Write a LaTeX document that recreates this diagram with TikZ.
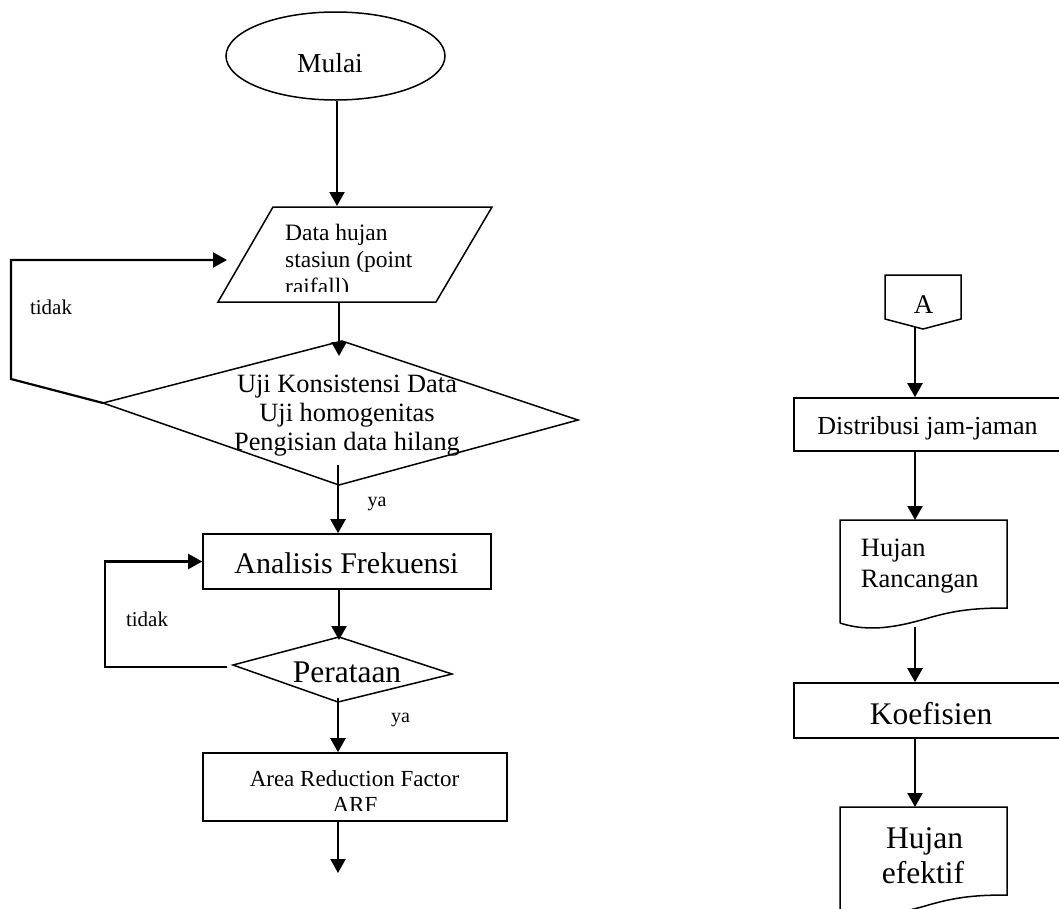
\documentclass[tikz,border=0pt]{standalone}
\usepackage{fontspec}
\setmainfont{Liberation Serif}
\usetikzlibrary{arrows.meta,shapes.geometric}
\begin{document}
\begin{tikzpicture}[x=1pt,y=-1pt,
  outline/.style={line width=1.5pt},
  flow/.style={line width=2.2pt,-{Triangle[width=15pt,length=14pt]}},
  box/.style={draw,line width=1.6pt,rectangle,inner sep=0pt},
  txt/.style={inner sep=0pt,anchor=base},
  ltxt/.style={inner sep=0pt,anchor=base west},
  fs/.style={font=\fontsize{#1}{#1}\selectfont}
]
\clip (0,0) rectangle (1059,908);
\fill[white] (0,0) rectangle (1059,908);

% ---------- left column ----------
\node[draw,ellipse,outline,minimum width=219pt,minimum height=88pt,inner sep=0pt] (mulai) at (335.5,56) {};
\node[txt,fs=27.5] (mulaitxt) at (330,72) {Mulai};

% parallelogram (input data)
\coordinate (dTL) at (273,207);
\coordinate (dTR) at (492,207);
\coordinate (dBR) at (436,302);
\coordinate (dBL) at (218,302);
\coordinate (dTop) at (337,206);
\coordinate (dBot) at (339,302);
\draw[outline] (dTL) -- (dTR) -- (dBR) -- (dBL) -- cycle;
\begin{scope}
  \clip (218,200) rectangle (492,291.5);
  \node[ltxt,fs=23.5] (data1) at (285,240) {Data hujan};
  \node[ltxt,fs=23.5] (data2) at (285,267) {stasiun (point};
  \node[ltxt,fs=23.5] (data3) at (285,294) {raifall)};
\end{scope}

% diamond 1
\coordinate (uT) at (342,341);
\coordinate (uR) at (578,420);
\coordinate (uB) at (339,485);
\coordinate (uL) at (103,403);
\coordinate (uIn) at (339,356);
\coordinate (uOut) at (338,465);
\draw[outline] (uT) -- (uR) -- (uB) -- (uL) -- cycle;
\node[txt,fs=26.4] (uji1) at (347,392) {Uji Konsistensi Data};
\node[txt,fs=26.4] (uji2) at (347,421) {Uji homogenitas};
\node[txt,fs=26.4] (uji3) at (347,450) {Pengisian data hilang};

% loop 1
\coordinate (l1a) at (11,379);
\coordinate (l1b) at (11,260);
\coordinate (l1e) at (227,260);
\node[txt,fs=21] (tidak1) at (51,314) {tidak};
\node[txt,fs=20] (ya1) at (377,506) {ya};

% Analisis Frekuensi
\node[box,minimum width=288pt,minimum height=55pt] (analisis) at (347,561.5) {};
\node[txt,fs=30] (analisistxt) at (346.5,573) {Analisis Frekuensi};

% Perataan diamond
\coordinate (pT) at (339,637);
\coordinate (pR) at (452,674);
\coordinate (pB) at (338,702);
\coordinate (pL) at (233,665);
\coordinate (pIn) at (339,640);
\coordinate (pOut) at (338,698);
\draw[outline] (pT) -- (pR) -- (pB) -- (pL) -- cycle;
\node[txt,fs=31.5] (perataantxt) at (347,682) {Perataan};

% loop 2
\coordinate (l2s) at (227,667);
\coordinate (l2a) at (105,667);
\coordinate (l2b) at (105,561.5);
\node[txt,fs=21] (tidak2) at (147,626) {tidak};
\node[txt,fs=20] (ya2) at (400.5,722) {ya};

% ARF
\node[box,minimum width=304pt,minimum height=68pt] (arf) at (355,787) {};
\node[txt,fs=23] (arf1) at (354.5,786) {Area Reduction Factor};
\begin{scope}
  \clip (203,790) rectangle (507,810);
  \node[txt,fs=23] (arf2) at (355,812.5) {ARF};
\end{scope}
\coordinate (arfEnd) at (338,873);

% left connectors
\draw[flow] (mulai.south -| dTop) -- (dTop);
\draw[flow] (dBot) -- (uIn);
\draw[flow] (uL) -- (l1a) -- (l1b) -- (l1e);
\draw[flow] (uOut) -- (uOut |- analisis.north);
\draw[flow] (analisis.south -| pIn) -- (pIn);
\draw[flow] (l2s) -- (l2a) -- (l2b) -- (analisis.west);
\draw[flow] (pOut) -- (pOut |- arf.north);
\draw[flow] (arf.south -| arfEnd) -- (arfEnd);

% ---------- right column ----------
\coordinate (aTL) at (885,275);
\coordinate (aTR) at (961,275);
\coordinate (aRR) at (961,319);
\coordinate (aB) at (923,329);
\coordinate (aLL) at (885,319);
\coordinate (aOut) at (915,327);
\draw[outline] (aTL) -- (aTR) -- (aRR) -- (aB) -- (aLL) -- cycle;
\node[txt,fs=27] (atxt) at (923.5,313) {A};

\node[box,minimum width=268pt,minimum height=53pt] (distribusi) at (928,424.5) {};
\node[txt,fs=26] (distribusitxt) at (927.5,434) {Distribusi jam-jaman};

% Hujan Rancangan (document)
\coordinate (hrTL) at (840,520);
\coordinate (hrTR) at (1007,520);
\coordinate (hrIn) at (915,520);
\coordinate (hrOut) at (915,627);
\draw[outline] (840,623) -- (hrTL) -- (hrTR) -- (1007,608)
  .. controls (975,608) and (955,610) .. (925,619)
  .. controls (900,626) and (870,633) .. (840,623);
\node[ltxt,fs=26.5] (hr1) at (860.7,556) {Hujan};
\node[ltxt,fs=26.5] (hr2) at (860.7,587) {Rancangan};

\node[box,minimum width=274pt,minimum height=55pt] (koef) at (931,710.5) {};
\node[txt,fs=31.5] (kooeftxt) at (931,724) {Koefisien};

% Hujan efektif (document)
\coordinate (heTL) at (840,807);
\coordinate (heTR) at (1007,807);
\coordinate (heIn) at (915,807);
\draw[outline] (840,910) -- (heTL) -- (heTR) -- (1007,895)
  .. controls (975,895) and (955,897) .. (925,906)
  .. controls (900,913) and (870,920) .. (840,910);
\node[txt,fs=31.5] (he1) at (924.5,848) {Hujan};
\node[txt,fs=31.5] (he2) at (923,883) {efektif};

% right connectors
\draw[flow] (aOut) -- (aOut |- distribusi.north);
\draw[flow] (distribusi.south -| hrIn) -- (hrIn);
\draw[flow] (hrOut) -- (hrOut |- koef.north);
\draw[flow] (koef.south -| heIn) -- (heIn);
\end{tikzpicture}
\end{document}
